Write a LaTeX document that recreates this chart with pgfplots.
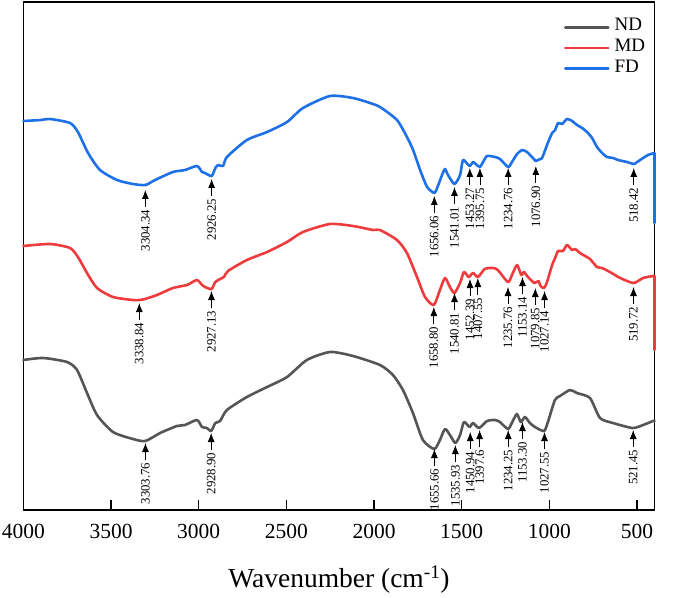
\documentclass[border=0pt]{standalone}
\usepackage{fontspec}
\setmainfont{Liberation Serif}
\usepackage{pgfplots}
\pgfplotsset{compat=1.18}
\usetikzlibrary{arrows.meta}
\definecolor{ndc}{RGB}{85,85,85}
\definecolor{mdc}{RGB}{238,60,62}
\definecolor{fdc}{RGB}{30,112,230}
\newcommand{\ann}[3]{%
  \draw[line width=0.8pt,-{Latex[length=9pt,width=7pt]}] ([yshift=-17pt]axis cs:#1,#2) -- (axis cs:#1,#2);
  \node[rotate=90,anchor=east,inner sep=0pt,font=\fontsize{12.8}{14}\selectfont] at ([yshift=-19.5pt]axis cs:#1,#2) {#3};
}
\begin{document}
\begin{tikzpicture}
\useasboundingbox (-23.4pt,-87pt) rectangle (660.6pt,510pt);
\begin{axis}[
  scale only axis, width=631.1pt, height=508pt,
  at={(0,0)}, anchor=south west,
  xmin=400, xmax=4000, x dir=reverse,
  ymin=0, ymax=508,
  xtick={500,1000,...,4000}, ytick=\empty,
  tick align=inside, xtick pos=bottom,
  major tick length=10pt,
  every tick/.style={black, line width=1.5pt},
  axis line style={line width=1.6pt},
  clip=false,
  /pgf/number format/assume math mode=true,
  /pgf/number format/1000 sep={},
  xticklabel style={font=\fontsize{21.5}{25}\selectfont, yshift=-11pt},
  xlabel={Wavenumber (cm\textsuperscript{-1})},
  xlabel style={font=\fontsize{27.5}{32}\selectfont, yshift=-20pt},
  legend style={draw=none, fill=none, at={(rel axis cs:0.8566,0.969)}, anchor=north west,
    inner sep=0pt, outer sep=0pt, font=\fontsize{19}{22}\selectfont, row sep=7.7pt, column sep=5pt,
    nodes={inner sep=0pt, text height=13pt, text depth=0pt}},
  legend cell align=left,
  legend image code/.code={\draw[#1] (0pt,-3pt) -- (43pt,-3pt);},
  every axis plot/.append style={line width=2.6pt, line join=round, line cap=round},
]
\addplot[ndc, smooth, tension=0.4] coordinates {
(4000,150)(3888,152)(3751,148)(3694,140)(3637,117)(3580,95)(3489,78)(3375,71)(3304,69)
(3220,77)(3124,84)(3078,85)(3010,90)(2981,83)(2953,82)(2929,79)(2905,87)(2878,89)(2839,100)
(2725,113)(2610,123)(2496,133)(2383,150)(2251,158)(2120,154)(1966,145)(1892,135)(1835,120)
(1778,97)(1721,70)(1656,61)(1624,70)(1595,81)(1567,75)(1536,67)(1509,75)(1487,88)(1455,83)
(1435,87)(1401,82)(1355,89)(1310,90)(1282,88)(1236,81)(1214,87)(1185,96)(1163,88)(1139,93)
(1111,87)(1082,83)(1030,79)(1008,88)(968,110)(939,114)(882,120)(843,117)(768,112)(711,92)
(637,87)(525,82)(465,85)(408,89)(400,89)
};
\addlegendentry{ND}
\addplot[mdc, smooth, tension=0.4] coordinates {
(4000,264)(3848,266)(3734,262)(3689,253)(3637,237)(3580,222)(3489,213)(3375,210)(3339,210)
(3306,211)(3238,215)(3147,222)(3067,225)(3010,230)(2981,225)(2964,223)(2927,221)(2905,228)
(2878,231)(2856,233)(2833,239)(2725,250)(2610,258)(2496,268)(2405,278)(2251,286)(2120,284)
(2006,280)(1966,280)(1869,270)(1812,257)(1755,233)(1709,213)(1659,205)(1624,220)(1595,232)
(1567,223)(1541,217)(1509,227)(1487,238)(1460,233)(1435,237)(1407,233)(1368,241)(1322,242)
(1294,240)(1236,228)(1213,235)(1184,245)(1160,235)(1145,238)(1122,233)(1085,227)(1062,229)
(1050,224)(1030,222)(1013,228)(984,245)(967,252)(950,259)(922,259)(899,265)(870,260)(853,261)
(825,257)(796,254)(768,251)(728,243)(699,242)(665,239)(625,235)(596,232)(520,227)(465,232)
(408,234)(402,234)
};
\addlegendentry{MD}
\addplot[fdc, smooth, tension=0.4] coordinates {
(4000,389)(3900,390)(3848,391)(3734,387)(3689,378)(3631,357)(3563,340)(3466,330)(3375,326)
(3304,325)(3249,330)(3147,338)(3078,340)(3010,344)(2981,338)(2964,337)(2926,334)(2905,342)
(2889,345)(2861,344)(2839,353)(2725,370)(2610,378)(2496,388)(2405,402)(2251,414)(2120,412)
(2023,407)(1966,403)(1869,390)(1812,373)(1777,360)(1737,340)(1697,323)(1656,317)(1640,322)
(1612,335)(1595,341)(1578,335)(1541,326)(1509,335)(1492,350)(1455,344)(1435,348)(1420,346)
(1396,343)(1378,348)(1355,354)(1310,353)(1281,351)(1235,343)(1213,348)(1184,356)(1155,360)
(1127,358)(1110,355)(1093,352)(1077,349)(1053,351)(1041,352)(1013,365)(984,377)(967,380)
(950,387)(927,386)(899,391)(870,389)(842,385)(813,382)(785,378)(756,372)(728,363)(699,357)
(671,353)(636,352)(608,350)(557,348)(518,346)(499,348)(465,352)(437,355)(402,357)
};
\addlegendentry{FD}
\addplot[fdc, forget plot] coordinates {(402,357)(400,357)(400,287)};
\addplot[mdc, forget plot] coordinates {(402,234)(400,234)(400,160)};
% FD annotations
\ann{3304.34}{320}{3304.34}
\ann{2926.25}{331}{2926.25}
\ann{1656.06}{314}{1656.06}
\ann{1541.01}{323}{1541.01}
\ann{1453.27}{342}{1453.27}
\ann{1395.75}{342}{1395.75}
\ann{1234.76}{342}{1234.76}
\ann{1076.90}{344}{1076.90}
\ann{518.42}{342}{518.42}
% MD annotations
\ann{3338.84}{207}{3338.84}
\ann{2927.13}{219}{2927.13}
\ann{1658.80}{203}{1658.80}
\ann{1540.81}{217}{1540.81}
\ann{1452.39}{231}{1452.39}
\ann{1407.55}{232}{1407.55}
\ann{1235.76}{223}{1235.76}
\ann{1153.14}{233}{1153.14}
\ann{1079.85}{222}{1079.85}
\ann{1027.14}{219}{1027.14}
\ann{519.72}{223}{519.72}
% ND annotations
\ann{3303.76}{67}{3303.76}
\ann{2928.90}{77}{2928.90}
\ann{1655.66}{61}{1655.66}
\ann{1535.93}{65}{1535.93}
\ann{1450.94}{78}{1450.94}
\ann{1397.6}{80}{1397.6}
\ann{1234.25}{80}{1234.25}
\ann{1153.30}{88}{1153.30}
\ann{1027.55}{78}{1027.55}
\ann{521.45}{80}{521.45}
\end{axis}
\end{tikzpicture}
\end{document}
